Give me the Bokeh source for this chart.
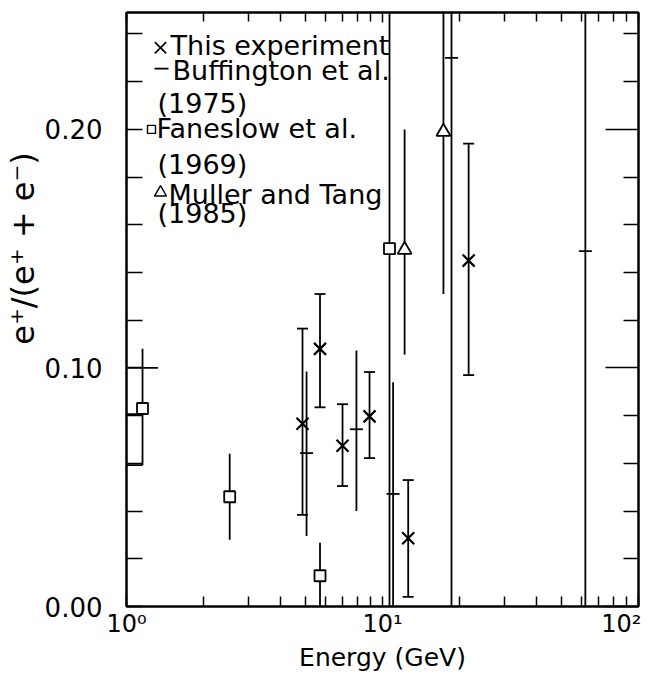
import numpy as np
from bokeh.plotting import figure
from bokeh.models import (LinearAxis, LogAxis, FixedTicker, PrintfTickFormatter,
                          CustomJSTickFormatter, Title, Range1d)
from bokeh.core.properties import value
from bokeh.embed import file_html
from bokeh.resources import INLINE

# ---- data ----
# This experiment (x)
exp_E = [4.87, 5.70, 6.98, 8.90, 12.6, 21.7]
exp_v = [0.0766, 0.108, 0.0674, 0.0797, 0.0286, 0.145]
exp_lo = [0.0384, 0.0835, 0.0505, 0.0622, 0.0040, 0.097]
exp_hi = [0.1165, 0.131, 0.0848, 0.0983, 0.053, 0.194]

# Buffington et al. (1975)  (-)
buf_E = [1.155, 5.05, 7.91, 11.0, 18.6, 62.0]
buf_v = [0.100, 0.0643, 0.0743, 0.0472, 0.230, 0.149]
buf_lo = [0.0593, 0.0296, 0.040, 0.0, 0.0, 0.0]
buf_hi = [0.108, 0.0985, 0.1073, 0.094, 0.30, 0.30]

# Faneslow et al. (1969)  (square)
fan_E = [1.155, 2.53, 5.70, 10.65]
fan_v = [0.083, 0.046, 0.0129, 0.150]
fan_lo = [0.083, 0.028, 0.0, 0.0]
fan_hi = [0.083, 0.064, 0.0267, 0.30]
fan_bin_v = [0.0806, 0.0593]
fan_bin_E0 = [1.0, 1.0]
fan_bin_E1 = [1.155, 1.155]

# Muller and Tang (1985)  (triangle)
mul_E = [12.2, 17.3]
mul_v = [0.1495, 0.199]
mul_lo = [0.1056, 0.131]
mul_hi = [0.200, 0.30]

# axes
x_major = [1, 10, 100]
x_minor = [2, 3, 4, 5, 6, 7, 8, 9, 20, 30, 40, 50, 60, 70, 80, 90]
y_major = [0.0, 0.1, 0.2]
y_minor = [0.02, 0.04, 0.06, 0.08, 0.12, 0.14, 0.16, 0.18, 0.22, 0.24]
x_labels = {1: "10\u2070", 10: "10\u00b9", 100: "10\u00b2"}

legend_text = ["This experiment", "Buffington et al.", "(1975)", "Faneslow et al.",
               "(1969)", "Muller and Tang", "(1985)"]
y_title = "e\u207a/(e\u207a + e\u207b)"
x_title = "Energy (GeV)"

# ---- layout / styles ----
FONT = "DejaVu Sans"
legend_x = [1.486, 1.513, 1.322, 1.31, 1.322, 1.459, 1.322]
legend_y = [0.2313, 0.2209, 0.2071, 0.1967, 0.1816, 0.1691, 0.1608]
LW = 1.8
PAD = "\u00a0" * 12   # shifts the rotated y title upwards, as in the original

p = figure(width=641, height=671, x_axis_type="log", title=None,
           x_range=Range1d(1, 100), y_range=Range1d(0, 0.249),
           output_backend="svg", toolbar_location=None,
           min_border_left=126, min_border_right=3, min_border_top=12,
           min_border_bottom=62)
p.background_fill_color = "white"
p.border_fill_color = "white"
p.outline_line_color = "black"
p.outline_line_width = 2
p.xgrid.visible = False
p.ygrid.visible = False

# bottom axis
xa = p.xaxis[0]
xa.ticker = FixedTicker(ticks=x_major, minor_ticks=x_minor)
xa.major_label_overrides = x_labels
xa.major_tick_in = 10
xa.major_tick_out = 0
xa.minor_tick_in = 10
xa.minor_tick_out = 0
xa.axis_line_width = 2
xa.major_tick_line_width = 1.5
xa.minor_tick_line_width = 1.5
xa.major_label_standoff = 3
xa.major_label_text_font = FONT
xa.major_label_text_font_size = "24px"
xa.major_label_text_color = "black"

# left axis
ya = p.yaxis[0]
ya.ticker = FixedTicker(ticks=y_major, minor_ticks=y_minor)
ya.formatter = PrintfTickFormatter(format="%.2f")
ya.major_tick_in = 16
ya.major_tick_out = 0
ya.minor_tick_in = 16
ya.minor_tick_out = 0
ya.axis_line_width = 2
ya.major_tick_line_width = 1.5
ya.minor_tick_line_width = 1.5
ya.major_label_standoff = 24
ya.major_label_text_font = FONT
ya.major_label_text_font_size = "26px"
ya.major_label_text_color = "black"

blank = CustomJSTickFormatter(code="return ''")
ra = LinearAxis(ticker=FixedTicker(ticks=y_major, minor_ticks=y_minor), formatter=blank,
                major_tick_in=33, major_tick_out=0, minor_tick_in=15, minor_tick_out=0,
                major_label_standoff=0, major_label_text_font_size="0px",
                axis_line_width=2, major_tick_line_width=1.5, minor_tick_line_width=1.5)
p.add_layout(ra, "right")
ta = LogAxis(ticker=FixedTicker(ticks=x_major, minor_ticks=x_minor), formatter=blank,
             major_tick_in=10, major_tick_out=0, minor_tick_in=9, minor_tick_out=0,
             major_label_standoff=0, major_label_text_font_size="0px",
             axis_line_width=2, major_tick_line_width=1.5, minor_tick_line_width=1.5)
p.add_layout(ta, "above")

# ---- axis titles ----
p.add_layout(Title(text=PAD + y_title, align="center", standoff=0,
                   text_font=FONT, text_font_size="32px",
                   text_font_style="normal", text_color="black"), "left")
p.add_layout(Title(text=x_title, align="center", standoff=0,
                   text_font=FONT, text_font_size="25px",
                   text_font_style="normal", text_color="black"), "below")

# ---- This experiment ----
p.segment(x0=exp_E, y0=exp_lo, x1=exp_E, y1=exp_hi, line_color="black", line_width=LW)
p.scatter(exp_E, exp_lo, marker="dash", size=11, line_color="black", line_width=LW)
p.scatter(exp_E, exp_hi, marker="dash", size=11, line_color="black", line_width=LW)
p.scatter(exp_E, exp_v, marker="x", size=17, line_color="black", line_width=2.2)

# ---- Buffington ----
p.segment(x0=buf_E, y0=buf_lo, x1=buf_E, y1=buf_hi, line_color="black", line_width=LW)
p.scatter(buf_E, buf_v, marker="dash", size=[31, 13, 13, 13, 13, 13],
          line_color="black", line_width=LW)

# ---- Faneslow ----
p.segment(x0=fan_E, y0=fan_lo, x1=fan_E, y1=fan_hi, line_color="black", line_width=LW)
p.segment(x0=fan_bin_E0, y0=fan_bin_v, x1=fan_bin_E1, y1=fan_bin_v,
          line_color="black", line_width=LW)
p.scatter(fan_E, fan_v, marker="square", size=11, line_color="black",
          fill_color="white", line_width=1.8)

# ---- Muller and Tang ----
p.segment(x0=mul_E, y0=mul_lo, x1=mul_E, y1=mul_hi, line_color="black", line_width=LW)
p.scatter(mul_E, mul_v, marker="triangle", size=14, line_color="black",
          fill_color="white", line_width=1.8)

# ---- legend ----
p.scatter([1.358], [0.2342], marker="x", size=16, line_color="black", line_width=1.7)
p.scatter([1.370], [0.2255], marker="dash", size=14, line_color="black", line_width=1.7)
p.scatter([1.252], [0.2000], marker="square", size=8, line_color="black",
          fill_color="white", line_width=1.4)
p.scatter([1.358], [0.1735], marker="triangle", size=12, line_color="black",
          fill_color="white", line_width=1.4)
p.text(x=legend_x, y=legend_y, text=legend_text, text_font=value(FONT),
       text_font_size="27px", text_baseline="alphabetic", text_align="left",
       y_offset=-9, text_color="black")

open("out.html", "w").write(file_html(p, INLINE))
